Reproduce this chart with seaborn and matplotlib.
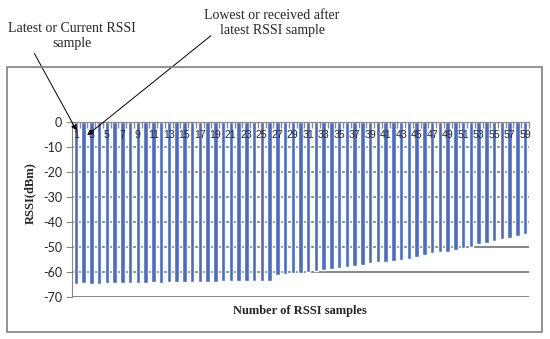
import pandas as pd
import seaborn as sns
import matplotlib.pyplot as plt
from matplotlib.patches import Rectangle

# RSSI per sample (dBm)
samples = [str(i) for i in range(1, 60)]
rssi = [-64.8, -64.6, -64.7, -64.9, -64.5, -64.4, -64.4, -64.3, -64.4, -64.3,
        -64.2, -64.3, -64.2, -64.1, -64.1, -64.0, -64.1, -63.9, -63.9, -63.8,
        -63.8, -63.7, -63.8, -63.7, -63.6, -63.6, -61.2, -60.9, -60.6, -60.3,
        -60.0, -59.6, -59.2, -58.8, -58.5, -58.1, -57.7, -57.2, -56.5, -56.1,
        -55.9, -55.5, -55.2, -54.7, -53.9, -53.2, -52.5, -52.1, -51.9, -51.2,
        -50.5, -49.9, -48.9, -48.3, -47.6, -46.9, -46.3, -45.6, -44.9]
y_ticks = [0, -10, -20, -30, -40, -50, -60, -70]

df = pd.DataFrame({'sample': samples, 'rssi': rssi})

sns.set_style('white')
fig = plt.figure(figsize=(5.5, 3.39), dpi=100)
ax = fig.add_axes([0.1309, 0.1239, 0.8309, 0.5162])

# gridlines first so the bars cover them, tick labels stay on top
for v in y_ticks[1:]:
    ax.axhline(v, color='#868686', linewidth=1.4, zorder=0.3)

sns.barplot(data=df, x='sample', y='rssi', order=samples, color='#4a6cc4',
            saturation=1, width=0.58, ax=ax, zorder=1)

ax.set_ylim(-70, 0)
ax.set_xlim(-0.5, len(samples) - 0.5)
ax.set_yticks(y_ticks, [str(v) for v in y_ticks])
ax.set_xticks(range(0, len(samples), 2), samples[::2])
ax.set_xticks([i + 0.5 for i in range(-1, len(samples))], minor=True)
ax.tick_params(axis='x', which='major', length=0, pad=6, labelsize=7.6,
               labelfontfamily='Liberation Sans')
ax.tick_params(axis='x', which='minor', direction='out', length=4,
               color='#8a8a8a', width=1)
ax.tick_params(axis='y', direction='out', length=4, color='#868686', pad=3,
               labelsize=9, labelfontfamily='Lato')
ax.yaxis.set_ticks_position('left')
ax.xaxis.set_ticks_position('bottom')

ax.set_axisbelow(False)
ax.spines['bottom'].set_position(('data', 0))
ax.spines['bottom'].set_color('#868686')
ax.spines['left'].set_color('#868686')
ax.spines['top'].set_visible(False)
ax.spines['right'].set_visible(False)
ax.set_xlabel('')
ax.set_ylabel('')

fig.text(0.5455, 0.083, 'Number of RSSI samples', ha='center', va='center',
         fontfamily='Liberation Serif', fontweight='bold', fontsize=9)
fig.text(0.055, 0.43, 'RSSI(dBm)', ha='center', va='center', rotation=90,
         fontfamily='Liberation Serif', fontweight='bold', fontsize=9)

# outer chart frame
fig.patches.append(Rectangle((0.0127, 0.0206), 0.9727, 0.7817, fill=False,
                             edgecolor='#808080', linewidth=1.2,
                             transform=fig.transFigure))

# annotations with arrows
fig_h = 339
fig.text(72 / 550, 1 - 36 / fig_h, 'Latest or Current RSSI\nsample',
         ha='center', va='center', fontfamily='Liberation Serif', fontsize=10)
fig.text(272 / 550, 1 - 23 / fig_h, 'Lowest or received after\nlatest RSSI sample',
         ha='center', va='center', fontfamily='Liberation Serif', fontsize=10)
ax.annotate('', xy=(78 / 550, 1 - 133 / fig_h), xycoords='figure fraction',
            xytext=(33 / 550, 1 - 51 / fig_h), textcoords='figure fraction',
            arrowprops=dict(arrowstyle='-|>', color='black', lw=0.7,
                            mutation_scale=8), annotation_clip=False)
ax.annotate('', xy=(85 / 550, 1 - 137 / fig_h), xycoords='figure fraction',
            xytext=(213 / 550, 1 - 34 / fig_h), textcoords='figure fraction',
            arrowprops=dict(arrowstyle='-|>', color='black', lw=0.7,
                            mutation_scale=8), annotation_clip=False)

plt.savefig('out.png', dpi=100)
plt.close()
